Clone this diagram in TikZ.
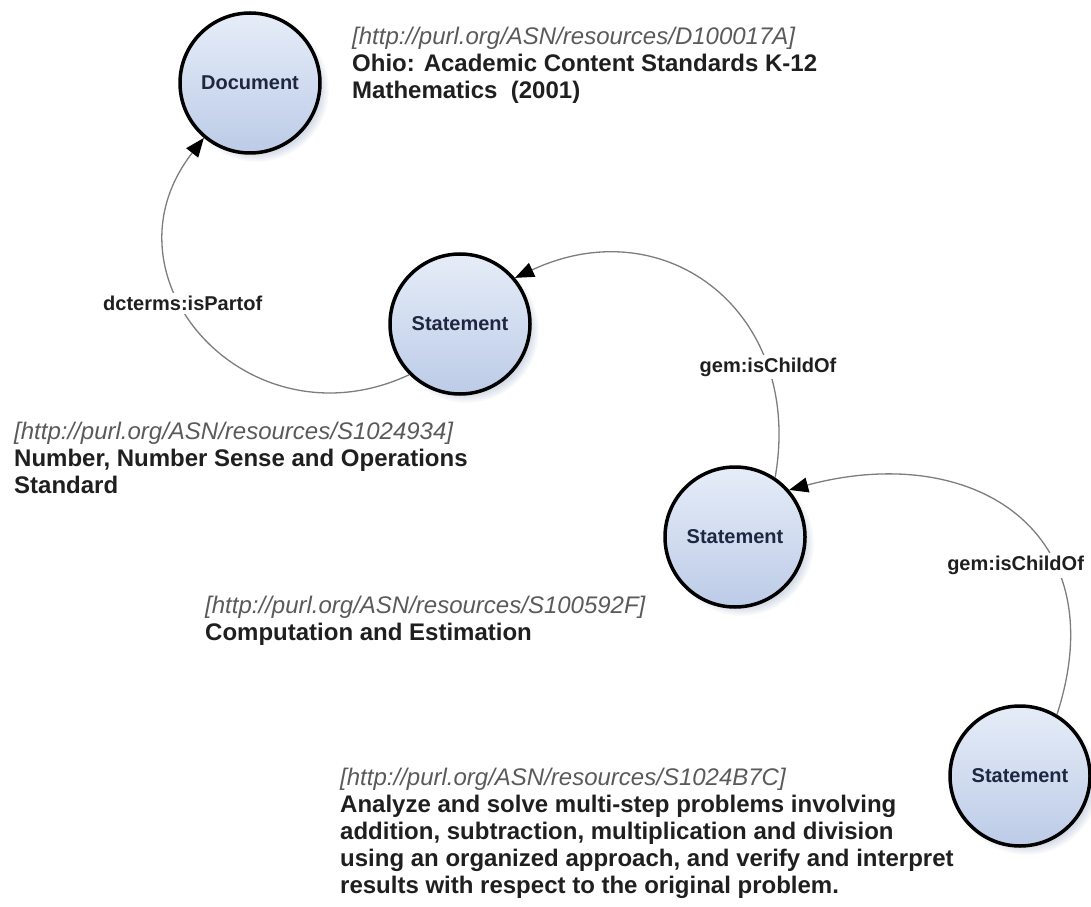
\documentclass[tikz,border=0pt]{standalone}
\usepackage{fontspec}
\setmainfont{Liberation Sans}
\usetikzlibrary{arrows.meta,shadows,shapes.geometric}

\definecolor{nodetop}{RGB}{230,237,248}
\definecolor{nodebottom}{RGB}{188,203,231}
\definecolor{nodetext}{RGB}{30,38,64}
\definecolor{urlgray}{RGB}{90,90,90}
\definecolor{linegray}{RGB}{125,125,125}

\newcommand{\asnurl}[1]{{\color{urlgray}\mdseries\itshape[http://purl.org/ASN/resources/#1]}}

\begin{document}
\begin{tikzpicture}[x=1pt,y=1pt]
\tikzstyle{concept} = [circle, draw=black, line width=3.5pt, minimum size=140pt,
inner sep=0pt, top color=nodetop, bottom color=nodebottom, text=nodetext,
font=\fontsize{20}{24}\selectfont\bfseries,
circular drop shadow={shadow xshift=6pt, shadow yshift=-6pt, shadow scale=1.04, fill=nodebottom!80!gray, opacity=0.6}]
\tikzstyle{info} = [anchor=north west, align=left, inner sep=0pt, text=black!88,
font=\fontsize{24}{27}\selectfont\bfseries]
\tikzstyle{relname} = [fill=white, inner sep=3pt, text=black!88,
font=\fontsize{20}{24}\selectfont\bfseries]
\tikzstyle{link} = [draw=linegray, line width=1.3pt,
-{Triangle[length=19pt,width=15pt,color=black]}]

\useasboundingbox (0,0) rectangle (1091,906);

% concepts
\node [concept] (doc) at (250,823) {Document};
\node [concept] (st1) at (460,582) {Statement};
\node [concept] (st2) at (735,369) {Statement};
\node [concept] (st3) at (1020,130) {Statement};

% descriptions
\node [info] (doctext) at (352,879) {\asnurl{D100017A}\\
Ohio: Academic Content Standards K-12\\
Mathematics~ (2001)};
\node [info] (st1text) at (14,484) {\asnurl{S1024934}\\
Number, Number Sense and Operations\\
Standard};
\node [info] (st2text) at (205,310) {\asnurl{S100592F}\\
Computation and Estimation};
\node [info] (st3text) at (340,138) {\asnurl{S1024B7C}\\
Analyze and solve multi-step problems involving\\
addition, subtraction, multiplication and division\\
using an organized approach, and verify and interpret\\
results with respect to the original problem.};

% relations
\draw [link] (st1.225) to[out=205,in=232,looseness=1.45]
  node[relname,pos=0.6] {dcterms:isPartof} (doc.230);
\draw [link] (st2.56) to[out=80,in=25,looseness=1.3]
  node[relname,pos=0.25] {gem:isChildOf} (st1.40);
\draw [link] (st3.59) to[out=72,in=15,looseness=1.4]
  node[relname,pos=0.33,xshift=-40pt] {gem:isChildOf} (st2.41);

\end{tikzpicture}
\end{document}
